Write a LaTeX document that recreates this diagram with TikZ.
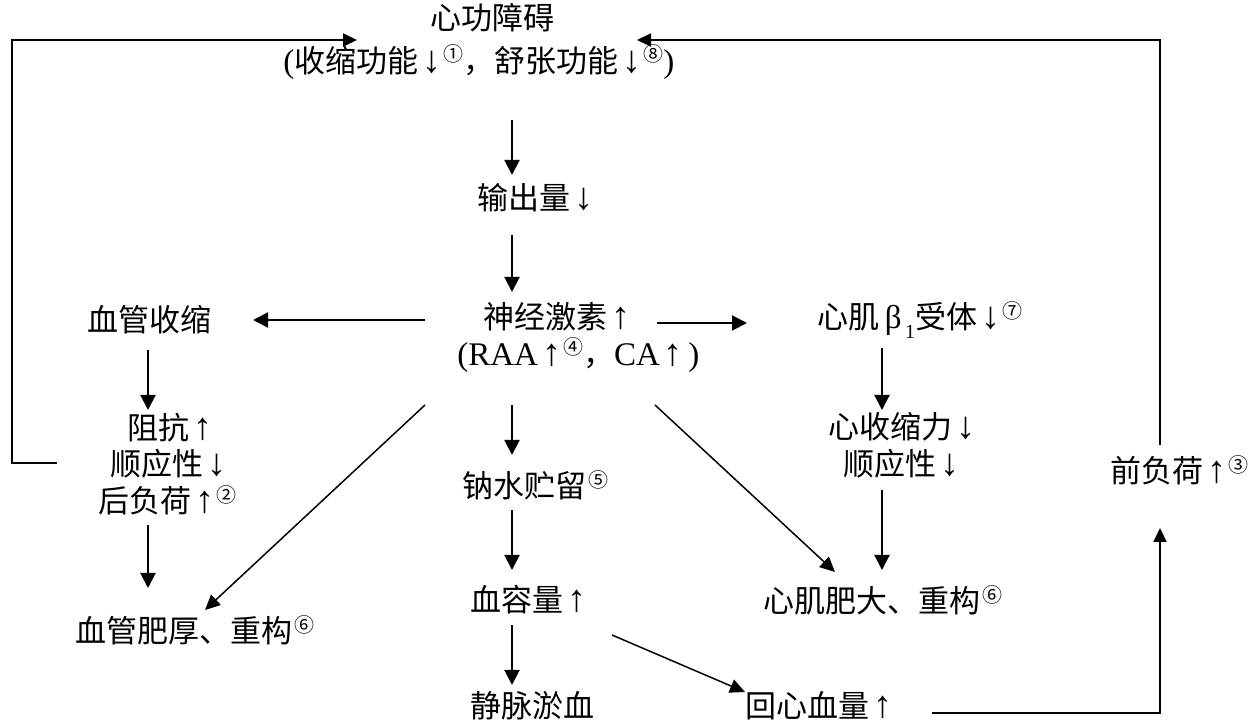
\documentclass[tikz,border=0pt]{standalone}
\usepackage{fontspec}
\setmainfont{Noto Sans CJK SC}
\newfontfamily\lat{Liberation Serif}
\usetikzlibrary{arrows.meta}
\newcommand\cnum[1]{\hspace{1pt}\raisebox{0.33em}{\fontsize{10}{10}\selectfont #1}}
\newcommand\latx[1]{{\lat\fontsize{16.5}{18}\selectfont #1}}
\newcommand\up{\hspace{2pt}{\lat\fontsize{19}{19}\selectfont ↑}}
\newcommand\dn{\hspace{2pt}{\lat\fontsize{19}{19}\selectfont ↓}}
\begin{document}
\begin{tikzpicture}[x=0.5pt,y=-0.5pt,
  txt/.style={inner sep=0pt, anchor=west, font=\fontsize{15.5}{18}\selectfont},
  arr/.style={line width=1pt, -{Triangle[length=7.5pt,width=7.5pt]}},
  darr/.style={line width=0.75pt, -{Triangle[length=7.5pt,width=7pt]}},
  loop/.style={line width=1pt, -{Triangle[length=7pt,width=6.5pt]}}]
\useasboundingbox (0,0) rectangle (1259,726);
\fill[white] (0,0) rectangle (1259,726);
% nodes
\node[txt] (t1) at (430,18) {心功障碍};
\node[txt] (t2) at (283,62) {\latx{(}收缩功能\dn\cnum{①}，舒张功能\dn\cnum{⑧}\latx{)}};
\node[txt] (out) at (477,198) {输出量\dn};
\node[txt] (nh1) at (483,317) {神经激素\up};
\node[txt] (nh2) at (457,355) {\latx{(RAA}\up\cnum{④}，\latx{CA}\up\latx{\,)}};
\node[txt] (vc) at (87,320) {血管收缩};
\node[txt] (b1) at (817,320) {心肌\latx{\,β}\raisebox{-0.3em}{\lat\fontsize{10}{10}\selectfont\,1}受体\dn\cnum{⑦}};
\node[txt] (res1) at (127,428) {阻抗\up};
\node[txt] (res2) at (110,464) {顺应性\dn};
\node[txt] (res3) at (98,500) {后负荷\up\cnum{②}};
\node[txt] (vessel) at (75,630) {血管肥厚、重构\cnum{⑥}};
\node[txt] (na) at (462,485) {钠水贮留\cnum{⑤}};
\node[txt] (vol) at (470,600) {血容量\up};
\node[txt] (hyp) at (763,600) {心肌肥大、重构\cnum{⑥}};
\node[txt] (c1) at (828,427) {心收缩力\dn};
\node[txt] (c2) at (843,464) {顺应性\dn};
\node[txt] (pre) at (1110,470) {前负荷\up\cnum{③}};
\node[txt] (vein) at (470,706) {静脉淤血};
\node[txt] (ret) at (745,706) {回心血量\up};
% connectors
\draw[arr] ([shift={(229,58)}]t2.west) -- ([shift={(35,-23)}]out.west);
\draw[arr] ([shift={(35,37)}]out.west) -- ([shift={(29,-25)}]nh1.west);
\draw[arr] ([shift={(-58,3)}]nh1.west) -- ([shift={(166,0)}]vc.west);
\draw[arr] ([shift={(174,6)}]nh1.west) -- ([shift={(-70,3)}]b1.west);
\draw[arr] ([shift={(61,30)}]vc.west) -- ([shift={(21,-18)}]res1.west);
\draw[arr] ([shift={(50,25)}]res3.west) -- ([shift={(73,-42)}]vessel.west);
\draw[arr] ([shift={(55,50)}]nh2.west) -- ([shift={(50,-30)}]na.west);
\draw[arr] ([shift={(50,25)}]na.west) -- ([shift={(42,-30)}]vol.west);
\draw[arr] ([shift={(42,25)}]vol.west) -- ([shift={(42,-21)}]vein.west);
\draw[darr] ([shift={(142,35)}]vol.west) -- ([shift={(0,-14)}]ret.west);
\draw[darr] ([shift={(-32,50)}]nh2.west) -- ([shift={(130,-20)}]vessel.west);
\draw[darr] ([shift={(198,50)}]nh2.west) -- ([shift={(72,-28)}]hyp.west);
\draw[arr] ([shift={(65,28)}]b1.west) -- ([shift={(54,-17)}]c1.west);
\draw[arr] ([shift={(39,26)}]c2.west) -- ([shift={(119,-30)}]hyp.west);
% loops
\draw[loop] ([shift={(-53,-1)}]res2.west) -- ++(-45,0) |- ([shift={(-73,22)}]t1.west);
\draw[loop] ([shift={(50,-25)}]pre.west) |- ([shift={(207,22)}]t1.west);
\draw[loop] ([shift={(187,7)}]ret.west) -| ([shift={(50,58)}]pre.west);
\end{tikzpicture}
\end{document}
